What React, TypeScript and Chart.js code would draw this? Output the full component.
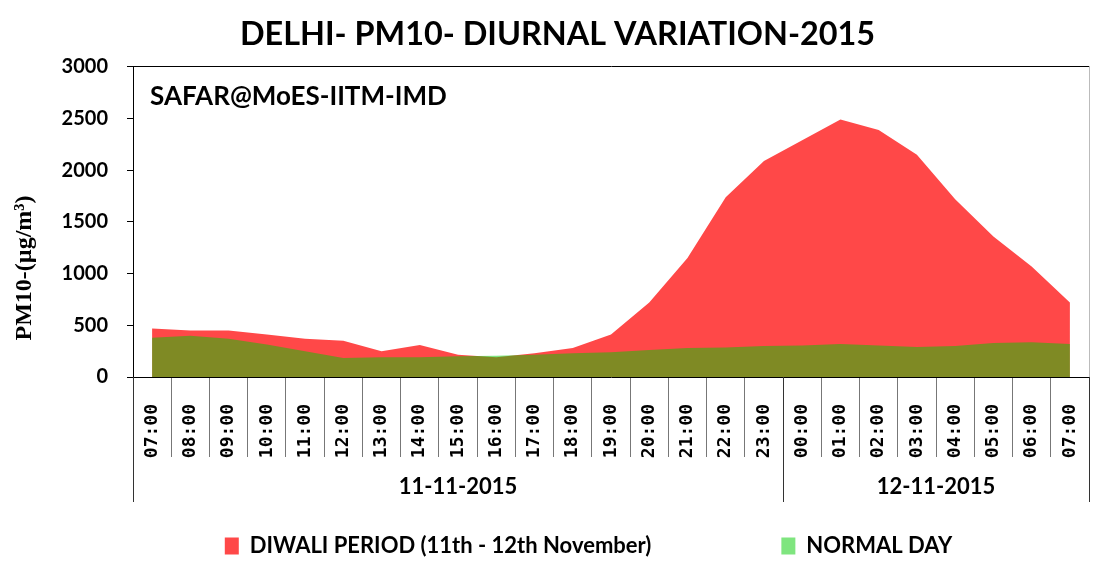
import React, { useEffect, useRef } from "react";
import { Chart, registerables } from "chart.js";

Chart.register(...registerables);

const TITLE = "DELHI- PM10- DIURNAL VARIATION-2015";
const ANNOTATION = "SAFAR@MoES-IITM-IMD";
const Y_TITLE = "PM10-(µg/m³)";
const HOURS = [
  "07:00", "08:00", "09:00", "10:00", "11:00", "12:00", "13:00", "14:00", "15:00",
  "16:00", "17:00", "18:00", "19:00", "20:00", "21:00", "22:00", "23:00",
  "00:00", "01:00", "02:00", "03:00", "04:00", "05:00", "06:00", "07:00",
];
const DATE_GROUPS = ["11-11-2015", "12-11-2015"];
const GROUP_SIZES = [17, 8];
const DIWALI_LABEL = "DIWALI PERIOD (11th - 12th November)";
const NORMAL_LABEL = "NORMAL DAY";
const DIWALI = [
  470, 450, 450, 410, 370, 350, 250, 310, 215, 190, 230, 280, 410, 720, 1150, 1740, 2090,
  2290, 2490, 2390, 2150, 1720, 1360, 1070, 720,
];
const NORMAL = [
  380, 400, 370, 315, 250, 185, 190, 190, 200, 205, 215, 230, 240, 260, 280, 285, 300,
  305, 320, 305, 290, 300, 330, 335, 320,
];
const Y_MIN = 0;
const Y_MAX = 3000;
const Y_STEP = 500;

const LEGEND_SHIFT = 44;
const TITLE_SHIFT = 13;

const decorations = {
  id: "decorations",
  afterLayout(chart: any) {
    if (chart.legend) {
      chart.legend.left += LEGEND_SHIFT;
      chart.legend.right += LEGEND_SHIFT;
    }
    if (chart.titleBlock) {
      chart.titleBlock.left += TITLE_SHIFT;
      chart.titleBlock.right += TITLE_SHIFT;
    }
    const xs = chart.scales.x;
    if (xs) {
      xs.bottom = xs.top + 90;
    }
  },
  afterDraw(chart: any) {
    const { ctx, chartArea } = chart;
    const xs = chart.scales.x;
    ctx.save();
    ctx.fillStyle = "#000";
    ctx.textBaseline = "middle";
    ctx.textAlign = "left";
    ctx.font = "bold 26px Lato";
    ctx.fillText(ANNOTATION, chartArea.left + 17, chartArea.top + 30);

    // y axis title
    ctx.save();
    ctx.translate(25, 268);
    ctx.rotate(-Math.PI / 2);
    ctx.textAlign = "center";
    ctx.font = "bold 24px 'Liberation Serif'";
    ctx.fillText(Y_TITLE, 0, 0);
    ctx.restore();

    // date groups
    const half = (xs.getPixelForValue(1) - xs.getPixelForValue(0)) / 2;
    ctx.strokeStyle = "#333";
    ctx.lineWidth = 1;
    let start = 0;
    const bottomY = chartArea.bottom + 125;
    const drawSep = (px: number) => {
      ctx.beginPath();
      ctx.moveTo(Math.round(px) + 0.5, chartArea.bottom);
      ctx.lineTo(Math.round(px) + 0.5, bottomY);
      ctx.stroke();
    };
    drawSep(xs.getPixelForValue(0) - half);
    ctx.font = "bold 22px Lato";
    ctx.textAlign = "center";
    DATE_GROUPS.forEach((g, i) => {
      const end = start + GROUP_SIZES[i] - 1;
      const x0 = xs.getPixelForValue(start) - half;
      const x1 = xs.getPixelForValue(end) + half;
      drawSep(x1);
      ctx.fillText(g, (x0 + x1) / 2, chartArea.bottom + 110);
      start = end + 1;
    });
    ctx.restore();
  },
};

export default function App() {
  const ref = useRef<HTMLCanvasElement | null>(null);
  useEffect(() => {
    document.body.style.margin = "0";
    const canvas = ref.current;
    if (!canvas) return;
    const chart = new Chart(canvas, {
      type: "line",
      data: {
        labels: HOURS,
        datasets: [
          {
            label: DIWALI_LABEL,
            data: DIWALI,
            backgroundColor: "#ff4848",
            borderColor: "#ff4848",
            borderWidth: 0,
            pointRadius: 0,
            fill: "origin",
            tension: 0,
            order: 2,
          },
          {
            label: NORMAL_LABEL,
            data: NORMAL,
            backgroundColor: "rgba(0, 204, 0, 0.5)",
            borderColor: "rgba(0, 204, 0, 0.5)",
            borderWidth: 0,
            pointRadius: 0,
            fill: "origin",
            tension: 0,
            order: 1,
          },
        ],
      },
      options: {
        responsive: false,
        animation: false,
        layout: { padding: { top: 0, right: 7, bottom: 7, left: 0 } },
        plugins: {
          title: {
            display: true,
            text: TITLE,
            color: "#000",
            font: { family: "Lato", size: 32.4, weight: "bold" },
            padding: { top: 15, bottom: 13 },
          },
          legend: {
            position: "bottom",
            labels: {
              color: "#000",
              font: { family: "Lato", size: 22, weight: "bold" },
              boxWidth: 14,
              boxHeight: 17,
              padding: 130,
              sort: (a: any, b: any) => a.datasetIndex - b.datasetIndex,
            },
          },
          tooltip: { enabled: false },
        },
        scales: {
          x: {
            type: "category",
            offset: true,
            afterFit: (s: any) => {
              s.height = 28;
            },
            grid: {
              display: true,
              offset: true,
              drawOnChartArea: false,
              drawTicks: true,
              tickLength: 80,
              color: "#777",
            },
            border: { display: true, color: "#000", width: 1 },
            ticks: {
              autoSkip: false,
              maxRotation: 90,
              minRotation: 90,
              padding: -53,
              color: "#000",
              font: { family: "DejaVu Sans Mono", size: 18, weight: "bold" },
            },
          },
          y: {
            min: Y_MIN,
            max: Y_MAX,
            afterFit: (s: any) => {
              s.width = 133;
            },
            grid: {
              color: (c: any) => (c.tick && c.tick.value === Y_MAX ? "#000" : "rgba(0,0,0,0)"),
              tickColor: "#000",
              tickLength: 6,
            },
            border: { display: true, color: "#000", width: 1 },
            ticks: {
              stepSize: Y_STEP,
              padding: 19,
              color: "#000",
              font: { family: "Lato", size: 20, weight: "bold" },
              callback: (v: any) => String(v),
            },
          },
          y2: {
            position: "right",
            display: true,
            afterFit: (s: any) => {
              s.width = 0;
            },
            grid: { display: false },
            border: { display: true, color: "#bbb", width: 1 },
            ticks: { display: false },
          },
        },
      },
      plugins: [decorations],
    });
    return () => chart.destroy();
  }, []);
  return (
    <div style={{ width: 1096, height: 574 }}>
      <canvas ref={ref} width={1096} height={574} />
    </div>
  );
}
